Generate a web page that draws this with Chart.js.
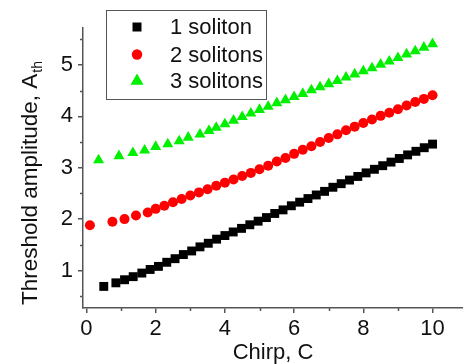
<html lang="en">

<head>
    <meta charset="UTF-8" />
    <title>Threshold amplitude vs chirp</title>
    <style>
        body {
            margin: 0;
            background: #fff;
        }
    </style>
</head>

<body>
    <canvas id="myChart" width="463" height="364"></canvas>

    <script src="https://cdn.jsdelivr.net/npm/chart.js"></script>

    <script>
        // data
        const oneX = [0.5, 0.85, 1.1, 1.35, 1.6, 1.84, 2.08, 2.32, 2.56, 2.8, 3.04, 3.28, 3.52, 3.76, 4.0, 4.24, 4.48, 4.72, 4.96, 5.2,
            5.44, 5.68, 5.92, 6.16, 6.4, 6.64, 6.88, 7.12, 7.36, 7.6, 7.84, 8.08, 8.32, 8.56, 8.8, 9.04, 9.28, 9.52, 9.76, 10.0];
        const oneY = [0.69, 0.76, 0.82, 0.88, 0.95, 1.02, 1.08, 1.16, 1.23, 1.31, 1.38, 1.46, 1.53, 1.61, 1.68, 1.75, 1.82, 1.89, 1.96, 2.03,
            2.11, 2.18, 2.26, 2.33, 2.40, 2.47, 2.54, 2.62, 2.69, 2.76, 2.83, 2.90, 2.97, 3.04, 3.11, 3.18, 3.25, 3.32, 3.39, 3.46];

        const twoX = [0.1, 0.75, 1.1, 1.43, 1.77, 2.0, 2.25, 2.5, 2.75, 3.0, 3.25, 3.5, 3.75, 4.0, 4.25, 4.5, 4.75, 5.0, 5.25, 5.5,
            5.75, 6.0, 6.25, 6.5, 6.75, 7.0, 7.25, 7.5, 7.75, 8.0, 8.25, 8.5, 8.75, 9.0, 9.25, 9.5, 9.75, 10.0];
        const twoY = [1.88, 1.95, 2.0, 2.07, 2.13, 2.20, 2.26, 2.33, 2.39, 2.46, 2.52, 2.58, 2.65, 2.71, 2.77, 2.84, 2.90, 2.97, 3.04, 3.12,
            3.19, 3.27, 3.35, 3.42, 3.50, 3.58, 3.65, 3.73, 3.80, 3.87, 3.94, 4.01, 4.07, 4.14, 4.21, 4.28, 4.34, 4.41];

        const threeX = [0.35, 0.94, 1.34, 1.68, 2.0, 2.35, 2.68, 2.94, 3.28, 3.54, 3.75, 4.0, 4.25, 4.5, 4.75, 5.0, 5.25, 5.5,
            5.75, 6.0, 6.25, 6.5, 6.75, 7.0, 7.25, 7.5, 7.75, 8.0, 8.25, 8.5, 8.75, 9.0, 9.25, 9.5, 9.75, 10.0];
        const threeY = [3.15, 3.23, 3.29, 3.34, 3.41, 3.46, 3.52, 3.59, 3.65, 3.72, 3.78, 3.85, 3.92, 3.99, 4.06, 4.13, 4.19, 4.26,
            4.32, 4.38, 4.44, 4.51, 4.57, 4.63, 4.69, 4.76, 4.82, 4.88, 4.94, 5.01, 5.07, 5.14, 5.21, 5.27, 5.34, 5.41];

        const seriesLabels = ["1 soliton", "2 solitons", "3 solitons"];
        const xTicks = [0, 2, 4, 6, 8, 10];
        const xMinor = [1, 3, 5, 7, 9];
        const yTicks = [1, 2, 3, 4, 5];
        const yMinor = [0.5, 1.5, 2.5, 3.5, 4.5, 5.5];

        const FONT = "'Liberation Sans', Arial, sans-serif";
        const axisColor = "#555";
        const textColor = "#111";

        const pts = (xs, ys) => xs.map((x, i) => ({ x: x, y: ys[i] }));

        // minor ticks, y title with subscript, legend box
        const decor = {
            id: "decor",
            afterDraw(chart) {
                const ctx = chart.ctx;
                const area = chart.chartArea;
                const xs = chart.scales.x;
                const ys = chart.scales.y;
                ctx.save();
                ctx.strokeStyle = axisColor;
                ctx.lineWidth = 1.5;
                ctx.beginPath();
                xMinor.forEach((v) => {
                    const px = Math.round(xs.getPixelForValue(v)) + 0.5;
                    ctx.moveTo(px, area.bottom);
                    ctx.lineTo(px, area.bottom + 3);
                });
                yMinor.forEach((v) => {
                    const py = Math.round(ys.getPixelForValue(v)) + 0.5;
                    ctx.moveTo(area.left, py);
                    ctx.lineTo(area.left - 3, py);
                });
                ctx.stroke();

                // y axis title
                ctx.fillStyle = textColor;
                ctx.translate(37, 305);
                ctx.rotate(-Math.PI / 2);
                ctx.textAlign = "left";
                ctx.textBaseline = "alphabetic";
                ctx.font = "22.5px " + FONT;
                const main = "Threshold amplitude, A";
                ctx.fillText(main, 0, 0);
                const w = ctx.measureText(main).width;
                ctx.font = "14px " + FONT;
                ctx.fillText("th", w + 1, 5);
                ctx.restore();

                // legend
                ctx.save();
                ctx.fillStyle = "#fff";
                ctx.fillRect(106, 10, 160, 89);
                ctx.strokeStyle = axisColor;
                ctx.lineWidth = 1;
                ctx.strokeRect(106.5, 10.5, 160, 89);
                const rows = [27, 54.5, 81];
                ctx.font = "22px " + FONT;
                ctx.textBaseline = "middle";
                ctx.textAlign = "left";
                chart.data.datasets.forEach((ds, i) => {
                    const cy = rows[i];
                    const cx = 137;
                    ctx.fillStyle = ds.backgroundColor;
                    ctx.beginPath();
                    if (ds.pointStyle === "rect") {
                        ctx.rect(cx - 4.5, cy - 4.5, 9, 9);
                    } else if (ds.pointStyle === "circle") {
                        ctx.arc(cx, cy, 5.2, 0, Math.PI * 2);
                    } else {
                        const r = 7.5;
                        ctx.moveTo(cx, cy - r);
                        ctx.lineTo(cx + r * 0.866, cy + r * 0.5);
                        ctx.lineTo(cx - r * 0.866, cy + r * 0.5);
                        ctx.closePath();
                    }
                    ctx.fill();
                    ctx.fillStyle = textColor;
                    ctx.fillText(ds.label, 170, cy + 1);
                });
                ctx.restore();
            },
        };

        const data = {
            datasets: [
                {
                    label: seriesLabels[0],
                    data: pts(oneX, oneY),
                    pointStyle: "rect",
                    pointRadius: 6.3,
                    backgroundColor: "#000",
                    borderColor: "#000",
                    borderWidth: 0,
                },
                {
                    label: seriesLabels[1],
                    data: pts(twoX, twoY),
                    pointStyle: "circle",
                    pointRadius: 5,
                    backgroundColor: "#ff0000",
                    borderColor: "#ff0000",
                    borderWidth: 0,
                },
                {
                    label: seriesLabels[2],
                    data: pts(threeX, threeY),
                    pointStyle: "triangle",
                    pointRadius: 6.4,
                    backgroundColor: "#00f000",
                    borderColor: "#00f000",
                    borderWidth: 0,
                },
            ],
        };

        const config = {
            type: "scatter",
            data,
            options: {
                responsive: false,
                animation: false,
                devicePixelRatio: 1,
                layout: { autoPadding: false, padding: { top: 28, right: 0, left: 0, bottom: 0 } },
                plugins: {
                    legend: { display: false },
                    tooltip: { enabled: false },
                },
                scales: {
                    x: {
                        type: "linear",
                        min: -0.1,
                        max: 10.88,
                        afterBuildTicks: (s) => { s.ticks = xTicks.map((v) => ({ value: v })); },
                        afterFit: (s) => { s.height = 56; },
                        grid: { drawOnChartArea: false, drawTicks: true, tickLength: 5, color: axisColor, lineWidth: 1.5 },
                        border: { display: true, color: axisColor, width: 1.5 },
                        ticks: { color: textColor, font: { family: FONT, size: 22 }, padding: 3, maxRotation: 0 },
                        title: {
                            display: true,
                            text: "Chirp, C",
                            color: textColor,
                            font: { family: FONT, size: 22 },
                            padding: { top: 0, bottom: -2 },
                        },
                    },
                    y: {
                        type: "linear",
                        min: 0.27,
                        max: 5.72,
                        afterBuildTicks: (s) => { s.ticks = yTicks.map((v) => ({ value: v })); },
                        afterFit: (s) => { s.width = 83; },
                        grid: { drawOnChartArea: false, drawTicks: true, tickLength: 5, color: axisColor, lineWidth: 1.5 },
                        border: { display: true, color: axisColor, width: 1.5 },
                        ticks: { color: textColor, font: { family: FONT, size: 22 }, padding: 5 },
                    },
                },
            },
            plugins: [decor],
        };

        // render
        const myChart = new Chart(document.getElementById("myChart"), config);
    </script>
</body>

</html>
